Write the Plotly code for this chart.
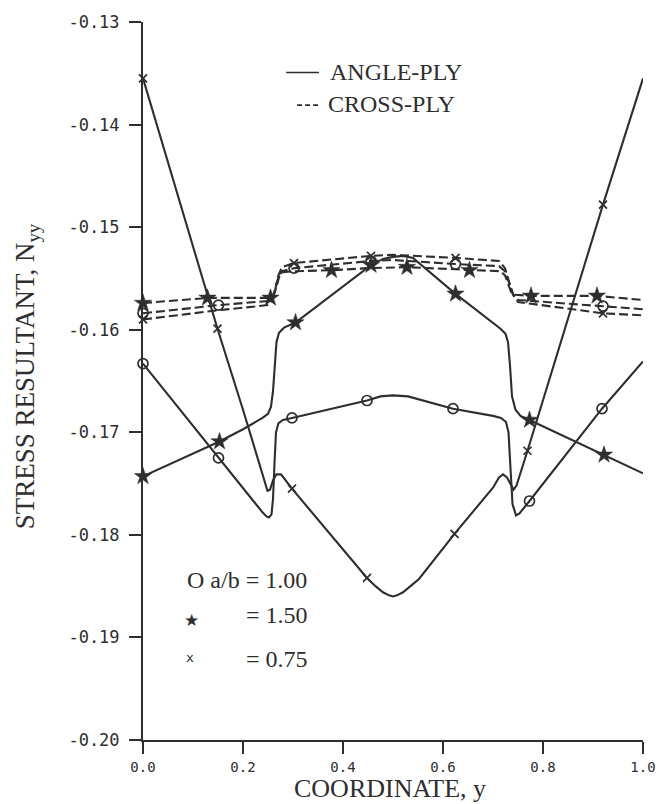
import plotly.graph_objects as go

# ---------------- data ----------------
# ANGLE-PLY (solid lines)
ap075_x = [0.0, 0.149, 0.200, 0.235, 0.244, 0.249, 0.254, 0.260, 0.267, 0.276, 0.298, 0.448, 0.465, 0.480,
           0.492, 0.500, 0.508, 0.520, 0.535, 0.552, 0.623, 0.700, 0.712, 0.720, 0.728, 0.735, 0.741, 0.747,
           0.769, 0.920, 1.0]
ap075_y = [-0.1355, -0.1599, -0.1678, -0.1735, -0.1750, -0.1757, -0.1756, -0.1747, -0.1741, -0.1741, -0.1755,
           -0.1842, -0.1850, -0.1856, -0.1859, -0.1860, -0.1859, -0.1856, -0.1850, -0.1843, -0.1799, -0.1754,
           -0.1744, -0.1741, -0.1744, -0.1751, -0.1756, -0.1752, -0.1718, -0.1478, -0.1355]
ap075_marks = [0.0, 0.149, 0.298, 0.448, 0.623, 0.769, 0.920]

ap100_x = [0.0, 0.151, 0.239, 0.247, 0.252, 0.257, 0.260, 0.263, 0.266, 0.271, 0.280, 0.298, 0.448, 0.475,
           0.500, 0.530, 0.620, 0.700, 0.716, 0.726, 0.731, 0.735, 0.739, 0.746, 0.753, 0.773, 0.918, 1.0]
ap100_y = [-0.1633, -0.1725, -0.1778, -0.1782, -0.1783, -0.1780, -0.1765, -0.1730, -0.1700, -0.1691, -0.1688,
           -0.1686, -0.1669, -0.1665, -0.1664, -0.1665, -0.1677, -0.1684, -0.1686, -0.1690, -0.1700, -0.1735,
           -0.1770, -0.1781, -0.1779, -0.1767, -0.1677, -0.1631]
ap100_marks = [0.0, 0.151, 0.298, 0.448, 0.620, 0.773, 0.918]

ap150_x = [0.0, 0.153, 0.200, 0.239, 0.250, 0.256, 0.260, 0.263, 0.267, 0.272, 0.282, 0.305, 0.456, 0.480,
           0.500, 0.520, 0.540, 0.625, 0.715, 0.725, 0.730, 0.734, 0.738, 0.745, 0.755, 0.773, 0.922, 1.0]
ap150_y = [-0.1743, -0.1709, -0.1697, -0.1686, -0.1682, -0.1675, -0.1660, -0.1635, -0.1612, -0.1603, -0.1598,
           -0.1593, -0.1537, -0.1531, -0.1529, -0.1528, -0.1530, -0.1565, -0.1599, -0.1604, -0.1612, -0.1635,
           -0.1665, -0.1678, -0.1684, -0.1688, -0.1722, -0.1740]
ap150_marks = [0.0, 0.153, 0.305, 0.456, 0.625, 0.773, 0.922]

# CROSS-PLY (dashed lines)
cp150_x = [0.0, 0.129, 0.255, 0.262, 0.267, 0.272, 0.280, 0.300, 0.377, 0.450, 0.528, 0.653, 0.715, 0.724,
           0.730, 0.736, 0.745, 0.776, 0.908, 1.0]
cp150_y = [-0.1574, -0.1569, -0.1569, -0.1566, -0.1558, -0.1549, -0.1544, -0.1543, -0.1542, -0.1540, -0.1539,
           -0.1542, -0.1543, -0.1547, -0.1556, -0.1563, -0.1566, -0.1567, -0.1567, -0.1571]
cp150_marks = [0.0, 0.129, 0.255, 0.377, 0.528, 0.653, 0.776, 0.908]

cp100_x = [0.0, 0.151, 0.250, 0.258, 0.264, 0.270, 0.278, 0.302, 0.456, 0.500, 0.625, 0.712, 0.724, 0.732,
           0.740, 0.750, 0.920, 1.0]
cp100_y = [-0.1584, -0.1576, -0.1572, -0.1569, -0.1561, -0.1550, -0.1543, -0.1540, -0.1533, -0.1532, -0.1536,
           -0.1538, -0.1543, -0.1553, -0.1565, -0.1571, -0.1577, -0.1580]
cp100_marks = [0.0, 0.151, 0.302, 0.456, 0.625, 0.920]

cp075_x = [0.0, 0.151, 0.250, 0.258, 0.264, 0.270, 0.278, 0.302, 0.456, 0.500, 0.625, 0.712, 0.724, 0.732,
           0.740, 0.750, 0.920, 1.0]
cp075_y = [-0.1590, -0.1581, -0.1576, -0.1572, -0.1562, -0.1548, -0.1539, -0.1535, -0.1528, -0.1527, -0.1530,
           -0.1533, -0.1540, -0.1552, -0.1566, -0.1573, -0.1584, -0.1586]
cp075_marks = [0.0, 0.302, 0.456, 0.625, 0.920]

x_ticks = [0.0, 0.2, 0.4, 0.6, 0.8, 1.0]
x_tick_labels = ["0.0", "0.2", "0.4", "0.6", "0.8", "1.0"]
y_ticks = [-0.20, -0.19, -0.18, -0.17, -0.16, -0.15, -0.14, -0.13]
y_tick_labels = ["-0.20", "-0.19", "-0.18", "-0.17", "-0.16", "-0.15", "-0.14", "-0.13"]

# ---------------- figure ----------------
INK = "#2e2e2e"
fig = go.Figure()


def pick(xs, ys, marks):
    lut = dict(zip(xs, ys))
    return marks, [lut[m] for m in marks]


series = [
    (ap075_x, ap075_y, ap075_marks, "solid", "x-thin-open"),
    (ap100_x, ap100_y, ap100_marks, "solid", "circle-open"),
    (ap150_x, ap150_y, ap150_marks, "solid", "star"),
    (cp150_x, cp150_y, cp150_marks, "9px,4px", "star"),
    (cp100_x, cp100_y, cp100_marks, "9px,4px", "circle-open"),
    (cp075_x, cp075_y, cp075_marks, "9px,4px", "x-thin-open"),
]

for xs, ys, marks, dash, sym in series:
    fig.add_trace(go.Scatter(x=xs, y=ys, mode="lines",
                             line=dict(color=INK, width=2.1, dash=dash),
                             showlegend=False, cliponaxis=False, hoverinfo="skip"))
for xs, ys, marks, dash, sym in series:
    mx, my = pick(xs, ys, marks)
    if sym == "circle-open":
        mk = dict(symbol=sym, size=10, color=INK, line=dict(color=INK, width=1.7))
    elif sym == "star":
        mk = dict(symbol=sym, size=13, color=INK, line=dict(color=INK, width=0.5))
    else:
        mk = dict(symbol=sym, size=8, color=INK, line=dict(color=INK, width=1.7))
    fig.add_trace(go.Scatter(x=mx, y=my, mode="markers", marker=mk,
                             showlegend=False, cliponaxis=False, hoverinfo="skip"))

W, H = 668, 804
ML, MR, MT, MB = 143, 22, 15, 64
PW, PH = W - ML - MR, H - MT - MB


def px(xp):
    return (xp - ML) / PW


def py(yp):
    return (H - MB - yp) / PH


serif = "Liberation Serif, Times New Roman, serif"
ann = []
# axis titles
ann.append(dict(text="STRESS RESULTANT, N<sub>yy</sub>", textangle=-90, x=px(26), y=py(373),
                xanchor="center", yanchor="middle", font=dict(family=serif, size=27, color=INK)))
ann.append(dict(text="COORDINATE, y", x=px(391), y=py(789), xanchor="center", yanchor="middle",
                font=dict(family=serif, size=26, color=INK)))
# top legend
ann.append(dict(text="ANGLE-PLY", x=px(329), y=py(65), xanchor="left", yanchor="middle",
                font=dict(family=serif, size=24, color=INK)))
ann.append(dict(text="CROSS-PLY", x=px(327), y=py(98), xanchor="left", yanchor="middle",
                font=dict(family=serif, size=24, color=INK)))
# bottom legend
ann.append(dict(text="O a/b = 1.00", x=px(185), y=py(578), xanchor="left", yanchor="middle",
                font=dict(family=serif, size=24, color=INK)))
ann.append(dict(text="★", x=px(192), y=py(619), xanchor="center", yanchor="middle",
                font=dict(family="DejaVu Sans", size=17, color=INK)))
ann.append(dict(text="= 1.50", x=px(245), y=py(614), xanchor="left", yanchor="middle",
                font=dict(family=serif, size=24, color=INK)))
ann.append(dict(text="x", x=px(190), y=py(657), xanchor="center", yanchor="middle",
                font=dict(family="DejaVu Sans Mono", size=13, color=INK)))
ann.append(dict(text="= 0.75", x=px(245), y=py(658), xanchor="left", yanchor="middle",
                font=dict(family=serif, size=24, color=INK)))
for a in ann:
    a.update(xref="paper", yref="paper", showarrow=False)

shapes = [
    dict(type="line", xref="paper", yref="paper", x0=px(287), x1=px(320), y0=py(66), y1=py(66),
         line=dict(color=INK, width=1.7)),
    dict(type="line", xref="paper", yref="paper", x0=px(298), x1=px(321), y0=py(99), y1=py(99),
         line=dict(color=INK, width=1.7, dash="5px,3px")),
]

axis_common = dict(showline=True, linecolor=INK, linewidth=2, ticks="outside", ticklen=12,
                   tickwidth=1.7, tickcolor=INK, showgrid=False, zeroline=False, tickmode="array")

fig.update_layout(
    width=W, height=H,
    margin=dict(l=ML, r=MR, t=MT, b=MB, pad=0),
    paper_bgcolor="white", plot_bgcolor="white",
    xaxis=dict(range=[0, 1], tickvals=x_ticks, ticktext=x_tick_labels,
               tickfont=dict(family="DejaVu Sans Mono", size=14, color=INK),
               ticklabelstandoff=1, **axis_common),
    yaxis=dict(range=[-0.20, -0.13], tickvals=y_ticks, ticktext=y_tick_labels,
               tickfont=dict(family="DejaVu Sans Mono", size=17, color=INK),
               ticklabelstandoff=6, **axis_common),
    annotations=ann, shapes=shapes,
)

fig.write_html("out.html")
